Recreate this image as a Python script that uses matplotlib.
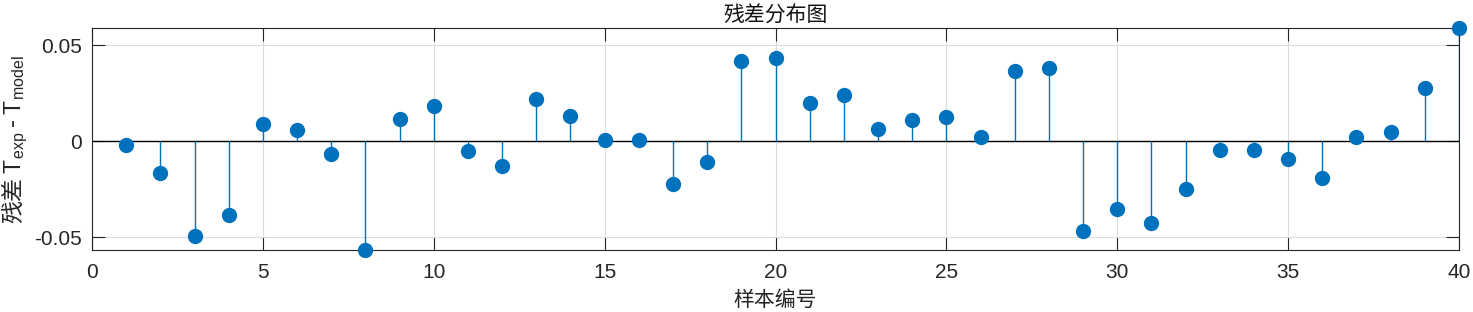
import numpy as np
import matplotlib
matplotlib.use('Agg')
from matplotlib import pyplot as plt

# sample numbers and residuals (T_exp - T_model)
samples = list(range(1, 41))
residuals = [
    -0.0019, -0.0165, -0.0492, -0.0382, 0.0088, 0.0059, -0.0065, -0.0568,
    0.0116, 0.0182, -0.0049, -0.0130, 0.0220, 0.0130, 0.0005, 0.0008,
    -0.0221, -0.0106, 0.0418, 0.0435, 0.0198, 0.0241, 0.0064, 0.0111,
    0.0125, 0.0024, 0.0366, 0.0383, -0.0466, -0.0354, -0.0427, -0.0248,
    -0.0047, -0.0047, -0.0090, -0.0189, 0.0024, 0.0050, 0.0277, 0.0589,
]
x_ticks = [0, 5, 10, 15, 20, 25, 30, 35, 40]
y_ticks = [-0.05, 0, 0.05]
y_tick_labels = ['-0.05', '0', '0.05']

title = '残差分布图'
x_label = '样本编号'
y_label = r'残差 $\mathrm{T_{exp}}$ - $\mathrm{T_{model}}$'

STEM_COLOR = '#0072BD'
AXIS_COLOR = '#262626'
CJK = 'Noto Sans CJK SC'

plt.rcParams['font.family'] = ['Liberation Sans', CJK, 'DejaVu Sans']
plt.rcParams['mathtext.fontset'] = 'custom'
plt.rcParams['mathtext.rm'] = 'Liberation Sans'
plt.rcParams['axes.unicode_minus'] = False

fig = plt.figure(figsize=(14.73, 3.12), dpi=100)
ax = fig.add_axes([0.0625, 0.198, 0.928, 0.711])

markerline, stemlines, baseline = ax.stem(samples, residuals)
plt.setp(markerline, color=STEM_COLOR, markersize=10, zorder=4, clip_on=False)
plt.setp(stemlines, color=STEM_COLOR, linewidth=1.0, zorder=3)
plt.setp(baseline, color='black', linewidth=1.0, zorder=2)
baseline.set_xdata([0, 40])

ax.set_xlim(0, 40)
ax.set_ylim(min(residuals), max(residuals))
ax.set_xticks(x_ticks)
ax.set_yticks(y_ticks)
ax.set_yticklabels(y_tick_labels)

ax.grid(True, color='#dcdcdc', linewidth=0.8, zorder=0)
ax.set_axisbelow(True)
ax.tick_params(direction='in', length=9.5, width=0.8, top=True, right=True,
               labelsize=15, colors=AXIS_COLOR)
ax.tick_params(axis='x', pad=9)
ax.tick_params(axis='y', pad=7)
for sp in ax.spines.values():
    sp.set_color(AXIS_COLOR)
    sp.set_linewidth(0.8)

ax.set_title(title, fontsize=15, family=CJK, color='#111111', pad=5)
ax.set_xlabel(x_label, fontsize=15, family=CJK, color='#262626', labelpad=5)
ax.set_ylabel(y_label, fontsize=16.5, family=CJK, color='#262626', labelpad=3)

fig.savefig('out.png', dpi=100)
